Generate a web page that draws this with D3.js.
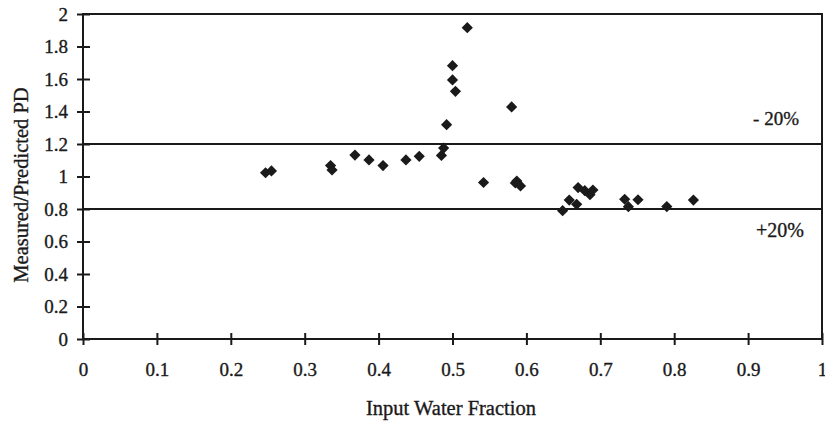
<!DOCTYPE html>
<html>
<head>
<meta charset="utf-8">
<script src="https://cdn.jsdelivr.net/npm/d3@7"></script>
<style>
  html, body { margin: 0; padding: 0; background: #fff; }
  svg { display: block; }
  text { font-family: "Liberation Serif", "DejaVu Serif", serif; fill: #1a1a1a; stroke: #1a1a1a; stroke-width: 0.35px; }
</style>
</head>
<body>
<svg id="chart" width="825" height="423"></svg>
<script>
// ---- data ----
const xTicks = [0, 0.1, 0.2, 0.3, 0.4, 0.5, 0.6, 0.7, 0.8, 0.9, 1];
const yTicks = [0, 0.2, 0.4, 0.6, 0.8, 1, 1.2, 1.4, 1.6, 1.8, 2];
const waterFraction = [0.247, 0.255, 0.335, 0.337, 0.368, 0.387, 0.406, 0.437, 0.455, 0.485,
  0.488, 0.492, 0.500, 0.500, 0.504, 0.520, 0.542, 0.580, 0.585, 0.587, 0.592,
  0.649, 0.658, 0.668, 0.670, 0.679, 0.686, 0.690, 0.733, 0.738, 0.751, 0.790, 0.826];
const ratioPD = [1.023, 1.034, 1.067, 1.040, 1.132, 1.102, 1.067, 1.102, 1.124, 1.130,
  1.175, 1.319, 1.682, 1.594, 1.524, 1.916, 0.963, 1.428, 0.960, 0.972, 0.942,
  0.790, 0.855, 0.829, 0.932, 0.913, 0.888, 0.917, 0.860, 0.814, 0.857, 0.815, 0.855];
const bandLines = [1.2, 0.8];
const bandLabels = ["- 20%", "+20%"];
const xTitle = "Input Water Fraction";
const yTitle = "Measured/Predicted PD";

// ---- layout ----
const svg = d3.select("#chart");
const pLeft = 83, pRight = 822, pTop = 14, pBottom = 339;
const x = d3.scaleLinear().domain([0, 1]).range([pLeft, pRight]);
const y = d3.scaleLinear().domain([0, 2]).range([pBottom, pTop]);
const ink = "#1a1a1a";

// frame
svg.append("rect")
  .attr("x", pLeft).attr("y", pTop)
  .attr("width", pRight - pLeft).attr("height", pBottom - pTop)
  .attr("fill", "none").attr("stroke", ink).attr("stroke-width", 2);

// band lines
svg.selectAll("line.band").data(bandLines).join("line")
  .attr("class", "band")
  .attr("x1", pLeft).attr("x2", pRight)
  .attr("y1", d => y(d)).attr("y2", d => y(d))
  .attr("stroke", ink).attr("stroke-width", 2);

// y axis
const yAxis = svg.append("g").attr("transform", `translate(${pLeft},0)`)
  .call(d3.axisLeft(y).tickValues(yTicks).tickSize(6).tickPadding(9).tickFormat(d3.format("~g")));
yAxis.select(".domain").remove();
yAxis.selectAll(".tick line").attr("stroke", ink).attr("stroke-width", 2);
yAxis.selectAll(".tick").append("line").attr("x1", 0).attr("x2", 7)
  .attr("stroke", ink).attr("stroke-width", 2);
yAxis.selectAll(".tick text").attr("font-size", 19).attr("fill", ink)
  .style("font-family", "'Liberation Serif', serif");

// x axis
const xAxis = svg.append("g").attr("transform", `translate(0,${pBottom})`)
  .call(d3.axisBottom(x).tickValues(xTicks).tickSize(6).tickPadding(18).tickFormat(d3.format("~g")));
xAxis.select(".domain").remove();
xAxis.selectAll(".tick line").attr("stroke", ink).attr("stroke-width", 2);
xAxis.selectAll(".tick").append("line").attr("y1", 0).attr("y2", -6)
  .attr("stroke", ink).attr("stroke-width", 2);
xAxis.selectAll(".tick text").attr("font-size", 19).attr("fill", ink)
  .style("font-family", "'Liberation Serif', serif");

// points
const pts = waterFraction.map((v, i) => ({ x: v, y: ratioPD[i] }));
const diamond = d3.symbol().type(d3.symbolDiamond2).size(80);
svg.selectAll("path.pt").data(pts).join("path")
  .attr("class", "pt")
  .attr("transform", d => `translate(${x(d.x)},${y(d.y)})`)
  .attr("d", diamond)
  .attr("fill", ink);

// band labels
svg.append("text").attr("x", 799).attr("y", 125).attr("text-anchor", "end")
  .attr("font-size", 19).text(bandLabels[0]);
svg.append("text").attr("x", 804).attr("y", 237).attr("text-anchor", "end")
  .attr("font-size", 20).text(bandLabels[1]);

// titles
svg.append("text").attr("x", (365 + 537) / 2).attr("y", 415).attr("text-anchor", "middle")
  .attr("font-size", 20.5).text(xTitle);
svg.append("text").attr("transform", "translate(28,185) rotate(-90)")
  .attr("text-anchor", "middle").attr("font-size", 20.5).text(yTitle);
</script>
</body>
</html>
